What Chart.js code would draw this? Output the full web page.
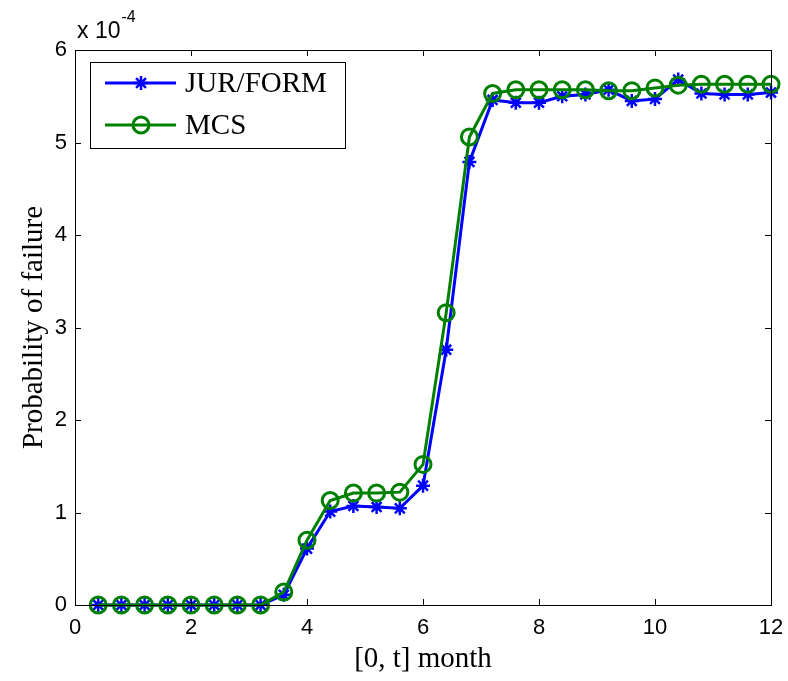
<!DOCTYPE html>
<html>
<head>
<meta charset="utf-8">
<script src="https://cdn.jsdelivr.net/npm/chart.js@4.4.1/dist/chart.umd.min.js"></script>
<style>
  html, body { margin: 0; padding: 0; background: #fff; }
  #wrap { width: 788px; height: 681px; position: relative; }
</style>
</head>
<body>
<div id="wrap"><canvas id="myChart"></canvas></div>
<script>
// --- Données (probabilités en unités de 1e-4) ---
const months = [0.4, 0.8, 1.2, 1.6, 2.0, 2.4, 2.8, 3.2, 3.6, 4.0,
                4.4, 4.8, 5.2, 5.6, 6.0, 6.4, 6.8, 7.2, 7.6, 8.0,
                8.4, 8.8, 9.2, 9.6, 10.0, 10.4, 10.8, 11.2, 11.6, 12.0];
const jurForm = [0, 0, 0, 0, 0, 0, 0, 0, 0.11, 0.61,
                 1.01, 1.07, 1.06, 1.045, 1.29, 2.76, 4.79, 5.46, 5.43, 5.43,
                 5.50, 5.52, 5.57, 5.45, 5.47, 5.68, 5.53, 5.52, 5.52, 5.54];
const mcs     = [0, 0, 0, 0, 0, 0, 0, 0, 0.14, 0.70,
                 1.13, 1.21, 1.21, 1.22, 1.52, 3.16, 5.06, 5.53, 5.57, 5.57,
                 5.57, 5.57, 5.56, 5.56, 5.59, 5.62, 5.63, 5.63, 5.63, 5.63];
const xTicks = [0, 2, 4, 6, 8, 10, 12];
const yTicks = [0, 1, 2, 3, 4, 5, 6];
const yExponent = '-4';

const toPoints = (ys) => ys.map((y, i) => ({ x: months[i], y: y }));

// --- Cadre, ticks intérieurs, légende et exposant ---
const matlabFrame = {
    id: 'matlabFrame',
    afterDraw(chart) {
        const ctx = chart.ctx;
        const a = chart.chartArea;
        const xs = chart.scales.x, ys = chart.scales.y;
        const len = 6;

        ctx.save();
        ctx.strokeStyle = '#000';
        ctx.lineWidth = 1;
        ctx.strokeRect(a.left + 0.5, a.top + 0.5, a.right - a.left, a.bottom - a.top);

        ctx.beginPath();
        xs.ticks.forEach(t => {
            const px = Math.round(xs.getPixelForValue(t.value)) + 0.5;
            ctx.moveTo(px, a.bottom); ctx.lineTo(px, a.bottom - len);
            ctx.moveTo(px, a.top);    ctx.lineTo(px, a.top + len);
        });
        ys.ticks.forEach(t => {
            const py = Math.round(ys.getPixelForValue(t.value)) + 0.5;
            ctx.moveTo(a.left, py);  ctx.lineTo(a.left + len, py);
            ctx.moveTo(a.right, py); ctx.lineTo(a.right - len, py);
        });
        ctx.stroke();

        // exposant "x 10^-4"
        ctx.fillStyle = '#000';
        ctx.textAlign = 'left';
        ctx.textBaseline = 'alphabetic';
        ctx.font = '23px "Liberation Sans", Arial, sans-serif';
        ctx.fillText('x 10', a.left + 2, 38);
        const w = ctx.measureText('x 10').width;
        ctx.font = '16px "Liberation Sans", Arial, sans-serif';
        ctx.fillText(yExponent, a.left + 3 + w, 22);

        // légende
        const box = { x: 90, y: 62, w: 255, h: 86 };
        ctx.fillStyle = '#fff';
        ctx.fillRect(box.x, box.y, box.w, box.h);
        ctx.strokeStyle = '#000';
        ctx.strokeRect(box.x + 0.5, box.y + 0.5, box.w, box.h);

        chart.data.datasets.forEach((ds, i) => {
            const cy = box.y + 21 + i * 42;
            ctx.strokeStyle = ds.borderColor;
            ctx.lineWidth = ds.borderWidth;
            ctx.beginPath();
            ctx.moveTo(box.x + 15, cy);
            ctx.lineTo(box.x + 86, cy);
            ctx.stroke();
            ctx.strokeStyle = ds.pointBorderColor;
            ctx.fillStyle = 'rgba(0,0,0,0)';
            ctx.lineWidth = ds.pointBorderWidth;
            Chart.helpers.drawPoint(ctx, {
                pointStyle: ds.pointStyle,
                radius: ds.pointRadius,
                borderWidth: ds.pointBorderWidth,
                rotation: 0
            }, box.x + 51, cy);
            ctx.fillStyle = '#000';
            ctx.font = '29px "Liberation Serif", "Times New Roman", serif';
            ctx.textBaseline = 'middle';
            ctx.fillText(ds.label, box.x + 95, cy + 1);
        });
        ctx.restore();
    }
};

const ctx = document.getElementById('myChart').getContext('2d');
const chartInstance = new Chart(ctx, {
    type: 'line',
    data: {
        datasets: [
            {
                label: 'JUR/FORM',
                data: toPoints(jurForm),
                borderColor: '#0000ff',
                backgroundColor: '#0000ff',
                borderWidth: 3,
                pointStyle: 'star',
                pointRadius: 7,
                pointBorderWidth: 2.5,
                pointBorderColor: '#0000ff',
                clip: false,
                order: 2
            },
            {
                label: 'MCS',
                data: toPoints(mcs),
                borderColor: '#008000',
                backgroundColor: 'rgba(0,0,0,0)',
                borderWidth: 3,
                pointStyle: 'circle',
                pointRadius: 8,
                pointBorderWidth: 3,
                pointBorderColor: '#008000',
                pointBackgroundColor: 'rgba(0,0,0,0)',
                clip: false,
                order: 1
            }
        ]
    },
    options: {
        responsive: true,
        maintainAspectRatio: false,
        animation: false,
        layout: { padding: { top: 50, right: 17, left: 0, bottom: 0 } },
        plugins: {
            legend: { display: false },
            tooltip: { enabled: false }
        },
        scales: {
            x: {
                type: 'linear',
                min: 0,
                max: 12,
                afterBuildTicks: (s) => { s.ticks = xTicks.map(v => ({ value: v })); },
                afterFit: (s) => { s.height = 76; s.paddingRight = 0; s.paddingLeft = 0; },
                grid: { display: false, drawTicks: false },
                border: { display: false },
                ticks: {
                    color: '#000',
                    padding: 10,
                    maxRotation: 0,
                    font: { family: '"Liberation Sans", Arial, sans-serif', size: 22 }
                },
                title: {
                    display: true,
                    text: '[0, t] month',
                    color: '#000',
                    padding: { top: 0, bottom: 4 },
                    font: { family: '"Liberation Serif", "Times New Roman", serif', size: 29 }
                }
            },
            y: {
                type: 'linear',
                min: 0,
                max: 6,
                afterBuildTicks: (s) => { s.ticks = yTicks.map(v => ({ value: v })); },
                afterFit: (s) => { s.width = 75; s.paddingTop = 0; s.paddingBottom = 0; },
                grid: { display: false, drawTicks: false },
                border: { display: false },
                ticks: {
                    color: '#000',
                    padding: 8,
                    font: { family: '"Liberation Sans", Arial, sans-serif', size: 22 }
                },
                title: {
                    display: true,
                    text: 'Probability of failure',
                    color: '#000',
                    padding: { top: 17, bottom: 0 },
                    font: { family: '"Liberation Serif", "Times New Roman", serif', size: 29 }
                }
            }
        }
    },
    plugins: [matlabFrame]
});
</script>
</body>
</html>
